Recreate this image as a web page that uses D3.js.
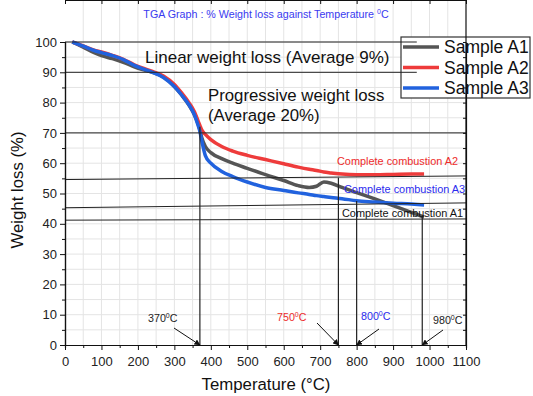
<!DOCTYPE html>
<html>
<head>
<meta charset="utf-8">
<script src="https://cdn.jsdelivr.net/npm/d3@7"></script>
<style>
	body { margin: 0; background: #fff; }
	svg { display: block; font-family: "Liberation Sans", Arial, sans-serif; }
</style>
</head>
<body>
<svg id="chart" width="533" height="396"></svg>
<script>
// temperatures (°C) shared by the three samples
var temps = [20, 50, 80, 100, 130, 160, 190, 210, 240, 270, 300, 320, 340, 355, 365, 370, 375, 385,
	400, 430, 460, 500, 550, 600, 640, 670, 690, 710, 730, 760, 800, 850, 900, 950, 985];

var sampleA1 = [100, 98.3, 96.5, 95.5, 94.5, 93.3, 91.8, 91, 90, 88.5, 85.3, 82.5, 79.2, 76, 73, 71, 68.5, 65.5,
	63.5, 61.5, 60, 58.3, 56.2, 54.3, 52.6, 52, 52.4, 53.8, 53.4, 52, 50.3, 48.2, 46, 43.8, 42.2];
var sampleA2 = [100, 98.7, 97.3, 96.7, 95.6, 94.3, 92.5, 91.5, 90.3, 88.8, 86, 83.2, 80, 77, 74, 72.5, 71, 69.5,
	67.8, 65.5, 64, 62.6, 61.2, 59.8, 58.7, 58, 57.6, 57.1, 56.8, 56.4, 56.2, 56.2, 56.3, 56.4, 56.4];
var sampleA3 = [100, 98.6, 97.2, 96.5, 95.5, 94.2, 92.3, 91.3, 90, 88.3, 85.3, 82.5, 79.3, 76, 72.5, 70.5, 67.5, 62.5,
	60, 57.3, 55.6, 53.8, 52, 51, 50.2, 49.7, 49.3, 49, 48.7, 48.3, 47.6, 47.2, 46.8, 46.5, 46.2];

var seriesNames = ['Sample A1', 'Sample A2', 'Sample A3'];
var seriesColors = ['#555555', '#ee3b3b', '#2162de'];

// reference lines: [x1, y1, x2, y2] in data units
var hLines = [[0, 100, 965, 100], [0, 90, 965, 90], [0, 70, 1100, 70],
	[0, 54.6, 1100, 55.8], [0, 45.3, 1100, 46.9], [0, 41.2, 1100, 41.6]];
var vLines = [[370, 72], [750, 55.2], [800, 47.5], [980, 42.5]];

var tempLabels = ['370', '750', '800', '980'];
var tempColors = ['#222', '#ee2b2b', '#2b2bee', '#222'];

var xTicks = d3.range(0, 1101, 100);
var yTicks = d3.range(0, 101, 10);

var svg = d3.select('#chart'),
	x = d3.scaleLinear().domain([0, 1100]).range([65, 466]),
	y = d3.scaleLinear().domain([0, 100]).range([345, 42]),
	yMax = 104.3,
	top = y(yMax);

// grid
svg.append('g')
	.selectAll('line')
	.data(d3.range(50, 1100, 50))
	.join('line')
		.attr('x1', function (d) { return x(d); })
		.attr('x2', function (d) { return x(d); })
		.attr('y1', top)
		.attr('y2', y(0))
		.attr('stroke', '#e4e4e4')
		.attr('stroke-width', 1);

svg.append('g')
	.selectAll('line')
	.data(d3.range(5, yMax, 5))
	.join('line')
		.attr('x1', x(0))
		.attr('x2', x(1100))
		.attr('y1', function (d) { return y(d); })
		.attr('y2', function (d) { return y(d); })
		.attr('stroke', '#e4e4e4')
		.attr('stroke-width', 1);

// curves
var line = d3.line()
	.x(function (d) { return x(d[0]); })
	.y(function (d) { return y(d[1]); })
	.curve(d3.curveMonotoneX);

[sampleA1, sampleA2, sampleA3].forEach(function (vals, i) {
	svg.append('path')
		.datum(temps.map(function (t, j) { return [t, vals[j]]; }))
		.attr('d', line)
		.attr('fill', 'none')
		.attr('stroke', seriesColors[i])
		.attr('stroke-width', 3.5)
		.attr('stroke-linejoin', 'round');
});

// legend
var legend = svg.append('g').attr('transform', 'translate(401,37)');
legend.append('rect')
	.attr('width', 129)
	.attr('height', 61)
	.attr('fill', '#fff')
	.attr('stroke', '#333')
	.attr('stroke-width', 1.2);
seriesNames.forEach(function (name, i) {
	var row = legend.append('g').attr('transform', 'translate(0,' + (10 + i * 20.5) + ')');
	row.append('line')
		.attr('x1', 2).attr('x2', 38)
		.attr('stroke', seriesColors[i])
		.attr('stroke-width', 3.5);
	row.append('text')
		.attr('x', 43)
		.attr('y', 6)
		.attr('font-size', 17.5)
		.attr('fill', '#111')
		.text(name);
});

// reference lines
svg.append('g')
	.selectAll('line')
	.data(hLines)
	.join('line')
		.attr('x1', function (d) { return x(d[0]); })
		.attr('y1', function (d) { return y(d[1]); })
		.attr('x2', function (d) { return x(d[2]); })
		.attr('y2', function (d) { return y(d[3]); })
		.attr('stroke', '#222')
		.attr('stroke-width', 1);

svg.append('g')
	.selectAll('line')
	.data(vLines)
	.join('line')
		.attr('x1', function (d) { return x(d[0]); })
		.attr('x2', function (d) { return x(d[0]); })
		.attr('y1', function (d) { return y(d[1]); })
		.attr('y2', y(0))
		.attr('stroke', '#222')
		.attr('stroke-width', 1.2);

// axes
var xAxis = d3.axisBottom(x).tickValues(xTicks).tickSize(5).tickSizeOuter(0).tickFormat(d3.format('d')),
	xMinor = d3.axisBottom(x).tickValues(d3.range(50, 1100, 100)).tickSize(3).tickFormat(''),
	yAxis = d3.axisLeft(y).tickValues(yTicks).tickSize(5).tickSizeOuter(0).tickFormat(d3.format('d')),
	yMinor = d3.axisLeft(y).tickValues(d3.range(5, 100, 10)).tickSize(3).tickFormat('');

function styleAxis(g) {
	g.select('.domain').attr('stroke', '#111').attr('stroke-width', 1.2);
	g.selectAll('.tick line').attr('stroke', '#111');
	g.selectAll('.tick text').attr('font-size', 13).attr('fill', '#222')
		.attr('font-family', '"Liberation Sans", Arial, sans-serif');
}

svg.append('g').attr('transform', 'translate(0,' + y(0) + ')').call(xAxis).call(styleAxis)
	.selectAll('.tick text').attr('dy', '1em');
svg.append('g').attr('transform', 'translate(0,' + y(0) + ')').call(xMinor).call(styleAxis);
svg.append('g').attr('transform', 'translate(' + x(0) + ',0)').call(yAxis).call(styleAxis);
svg.append('g').attr('transform', 'translate(' + x(0) + ',0)').call(yMinor).call(styleAxis);

// mirror axes (top and right, ticks inward)
svg.append('g').attr('transform', 'translate(0,' + top + ')')
	.call(d3.axisBottom(x).tickValues(xTicks).tickSize(4).tickSizeOuter(0).tickFormat(''))
	.call(styleAxis);
svg.append('g').attr('transform', 'translate(' + x(1100) + ',0)')
	.call(d3.axisLeft(y).tickValues(d3.range(0, 101, 5)).tickSize(3).tickSizeOuter(0).tickFormat(''))
	.call(styleAxis);
svg.append('line')
	.attr('x1', x(0)).attr('x2', x(1100))
	.attr('y1', top).attr('y2', top)
	.attr('stroke', '#111').attr('stroke-width', 1.2);
svg.append('line')
	.attr('x1', x(1100)).attr('x2', x(1100))
	.attr('y1', top).attr('y2', y(0))
	.attr('stroke', '#111').attr('stroke-width', 1.2);

// axis titles
svg.append('text')
	.attr('x', 266)
	.attr('y', 390)
	.attr('text-anchor', 'middle')
	.attr('font-size', 16.8)
	.attr('fill', '#111')
	.text('Temperature (°C)');

svg.append('text')
	.attr('transform', 'translate(23,' + 190 + ') rotate(-90)')
	.attr('text-anchor', 'middle')
	.attr('font-size', 16.8)
	.attr('fill', '#111')
	.text('Weight loss (%)');

// title
var title = svg.append('text')
	.attr('x', 266)
	.attr('y', 18)
	.attr('text-anchor', 'middle')
	.attr('font-size', 10.7)
	.attr('fill', '#3a3af0');
title.append('tspan').text('TGA Graph : % Weight loss against Temperature ');
title.append('tspan').attr('font-size', 7).attr('dy', -4).text('0');
title.append('tspan').attr('dy', 4).text('C');

// annotations
function addText(xp, yp, str, size, color) {
	return svg.append('text')
		.attr('x', xp)
		.attr('y', yp)
		.attr('font-size', size)
		.attr('fill', color)
		.text(str);
}

addText(145, 63, 'Linear weight loss (Average 9%)', 17, '#111');
addText(208, 101, 'Progressive weight loss', 16.8, '#111');
addText(208, 121, '(Average 20%)', 16.8, '#111');
addText(337, 165, 'Complete combustion A2', 10.9, '#ee2b2b');
addText(344, 193, 'Complete combustion A3', 10.9, '#2b2bee');
addText(342, 217, 'Complete combustion A1', 10.9, '#111');

// temperature call-outs with arrows
var calloutText = [[148, 322], [277, 321], [361, 320], [433, 324]],
	arrowFrom = [[174, 328], [317, 323], [379, 329], [443, 330]];

svg.append('defs').append('marker')
	.attr('id', 'arrow')
	.attr('viewBox', '0 0 10 10')
	.attr('refX', 9)
	.attr('refY', 5)
	.attr('markerWidth', 6)
	.attr('markerHeight', 6)
	.attr('orient', 'auto')
	.append('path')
		.attr('d', 'M0,0L10,5L0,10z')
		.attr('fill', '#111');

vLines.forEach(function (v, i) {
	var t = addText(calloutText[i][0], calloutText[i][1], tempLabels[i], 10.7, tempColors[i]);
	t.append('tspan').attr('font-size', 7).attr('dy', -4).text('0');
	t.append('tspan').attr('dy', 4).text('C');

	svg.append('line')
		.attr('x1', arrowFrom[i][0])
		.attr('y1', arrowFrom[i][1])
		.attr('x2', x(v[0]))
		.attr('y2', y(0))
		.attr('stroke', '#111')
		.attr('stroke-width', 1)
		.attr('marker-end', 'url(#arrow)');
});
</script>
</body>
</html>
